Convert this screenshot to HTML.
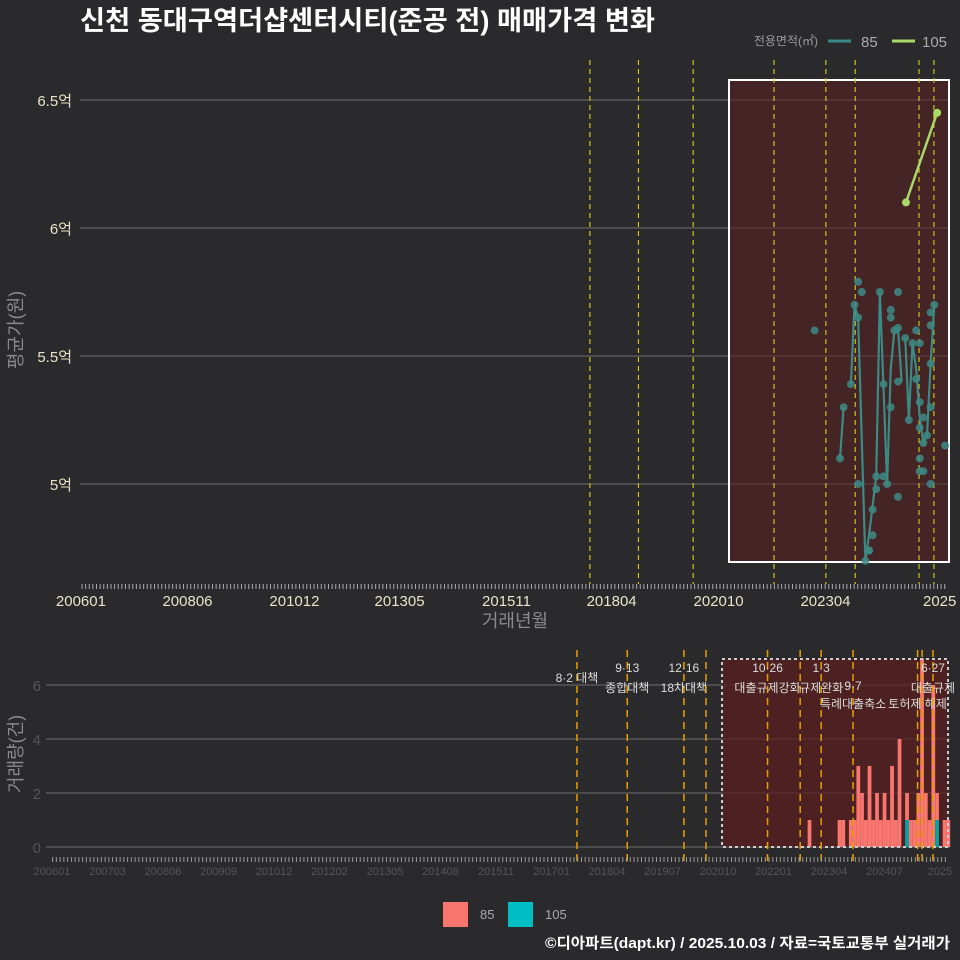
<!DOCTYPE html>
<html><head><meta charset="utf-8"><style>
html,body{margin:0;padding:0;background:#2a2a2c;}
svg{display:block;font-family:"Liberation Sans","Noto Sans CJK KR",sans-serif;}
</style></head><body>
<svg id="c" width="960" height="960" viewBox="0 0 960 960" xmlns="http://www.w3.org/2000/svg">
<rect x="0" y="0" width="960" height="960" fill="#2a2a2c"/>
<text x="80" y="30" fill="#ffffff" font-size="27" font-weight="bold" textLength="575" lengthAdjust="spacingAndGlyphs">신천 동대구역더샵센터시티(준공 전) 매매가격 변화</text>
<g>
<text x="818" y="45" fill="#9a9a9a" font-size="12" text-anchor="end">전용면적(㎡)</text>
<line x1="828" y1="41" x2="851" y2="41" stroke="#3a8a86" stroke-width="3"/>
<text x="861" y="47" fill="#aaaaaa" font-size="15">85</text>
<line x1="892" y1="41" x2="915" y2="41" stroke="#a8d86a" stroke-width="3"/>
<text x="922" y="47" fill="#aaaaaa" font-size="15">105</text>
</g>
<text transform="translate(22,330) rotate(-90)" fill="#8a8a8a" font-size="18" text-anchor="middle">평균가(원)</text>
<text x="515" y="627" fill="#8a8a8a" font-size="18" text-anchor="middle">거래년월</text>
<text transform="translate(22,754) rotate(-90)" fill="#8a8a8a" font-size="18" text-anchor="middle">거래량(건)</text>
<g>
<rect x="443" y="902" width="25" height="25" fill="#f8766d"/>
<text x="480" y="919" fill="#aaaaaa" font-size="13">85</text>
<rect x="508" y="902" width="25" height="25" fill="#00bfc4"/>
<text x="545" y="919" fill="#aaaaaa" font-size="13">105</text>
</g>
<text x="950" y="948" fill="#ffffff" font-size="15" font-weight="bold" text-anchor="end" textLength="405" lengthAdjust="spacingAndGlyphs">©디아파트(dapt.kr) / 2025.10.03 / 자료=국토교통부 실거래가</text>
</svg>
<script>
// ---- data (month index: 0 = 2006-01) ----
const priceTicks = [5, 5.5, 6, 6.5];
const priceTickLabels = ['5억', '5.5억', '6억', '6.5억'];
const topXLabels = ['200601','200806','201012','201305','201511','201804','202010','202304','2025'];
const topXLabelMonths = [-1.4, 28, 57.5, 86.5, 116, 145, 174.5, 204, 235.5];
const topEventMonths = [139, 152.4, 167.5, 189.8, 204.1, 212.2, 229.8, 233.9];
const points85Months = [201,208,209,211,212,213,213,214,213,215,216,216,217,217,218,218,219,220,220,221,222,222,222,223,224,224,224,224,226,227,228,229,229,230,230,230,231,231,232,233,233,233,233,233,234,230,230,231,237];
const points85Values = [5.60,5.10,5.30,5.39,5.70,5.79,5.65,5.75,5.00,4.70,4.74,4.74,4.80,4.90,4.98,5.03,5.75,5.39,5.03,5.00,5.30,5.68,5.65,5.60,5.61,5.75,5.40,4.95,5.57,5.25,5.55,5.60,5.41,5.55,5.32,5.22,5.26,5.16,5.19,5.47,5.30,5.00,5.62,5.67,5.70,5.10,5.05,5.05,5.15];
const line85Months = [208,209,null,211,212,213,215,216,218,219,221,222,223,224,225,null,226,227,228,229,230,231,232,233,234];
const line85Values = [5.10,5.30,null,5.39,5.70,5.65,4.70,4.80,5.03,5.75,5.00,5.45,5.60,5.61,5.40,null,5.57,5.25,5.55,5.45,5.26,5.16,5.19,5.47,5.70];
const line105Months = [226.2, 234.8];
const line105Values = [6.10, 6.45];
const volTicks = [0, 2, 4, 6];
const botXLabels = ['200601','200703','200806','200909','201012','201202','201305','201408','201511','201701','201804','201907','202010','202201','202304','202407','2025'];
const botEventMonths = [139, 152.4, 167.5, 173.4, 189.8, 198.5, 204.1, 212.6, 229.8, 231, 233.9];
const eventTexts = [['8·2 대책',''],['9·13','종합대책'],['12·16','18차대책'],['',''],['10·26','대출규제강화'],['',''],['1·3','규제완화'],['9·7','특례대출축소'],['','토허제 해제'],['',''],['6·27','대출규제']];
const barMonths = [201,209,210,212,213,214,215,216,217,218,219,220,221,222,223,224,225,227,228,229,230,231,232,233,234,235,237,238];
const bar85 = [1,1,1,1,1,3,2,1,3,1,2,1,2,1,3,1,4,1,1,1,2,7,2,1,6,1,1,1];
const bar105 = [0,0,0,0,0,0,0,0,0,0,0,0,0,0,0,0,0,1,0,0,0,0,0,0,0,1,0,0];

// ---- scales ----
const NS='http://www.w3.org/2000/svg';
const svg=document.getElementById('c');
const xTop=m=>86+m*3.625;
const yTop=v=>484-(v-5)*256;
const xBot=m=>55.6+m*3.751;
const yBot=v=>847-v*27;
function mk(tag,attrs,parent){const e=document.createElementNS(NS,tag);for(const k in attrs)e.setAttribute(k,attrs[k]);(parent||svg).appendChild(e);return e;}

// ---- top panel ----
const gTop=mk('g',{});


priceTicks.forEach((v,i)=>{
  const l=mk('line',{x1:80,x2:950,y1:yTop(v),y2:yTop(v),stroke:'#6e6e6e','stroke-width':1},gTop);
  
  
  const t=mk('text',{x:72,y:yTop(v)+6,fill:'#e8e4c8','font-size':15,'text-anchor':'end'},gTop);
  t.textContent=priceTickLabels[i];
  
  
});
const hr=mk('rect',{x:729,y:80,width:220,height:482,fill:'#5a1f1f','fill-opacity':0.55,stroke:'#ffffff','stroke-width':2},gTop);


topEventMonths.forEach(m=>{
  const l=mk('line',{x1:xTop(m),x2:xTop(m),y1:60,y2:584,stroke:'#c8c020','stroke-width':1.2,'stroke-dasharray':'5,4'},gTop);
  
  
});
let tk='';for(let m=0;m<=238;m++){tk+=`M${xTop(m)-4} 584v5`;}
const tp=mk('path',{d:tk,stroke:'#aaaaaa','stroke-width':1},gTop);


topXLabels.forEach((s,i)=>{
  const t=mk('text',{x:xTop(topXLabelMonths[i]),y:606,fill:'#e8e4c8','font-size':15,'text-anchor':'middle'},gTop);
  t.textContent=s;
  
  
});
function linePath(ms,vs){let d='',pen=false;ms.forEach((m,i)=>{if(m===null){pen=false;return;}d+=(pen?'L':'M')+xTop(m)+' '+yTop(vs[i]);pen=true;});return d;}
const l85=mk('path',{d:linePath(line85Months,line85Values),fill:'none',stroke:'#3a8a86','stroke-width':2.2},gTop);


points85Months.forEach((m,i)=>{
  const c=mk('circle',{cx:xTop(m),cy:yTop(points85Values[i]),r:4,fill:'#3d8a85','fill-opacity':0.85},gTop);
  
  
});
const l105=mk('path',{d:linePath(line105Months,line105Values),fill:'none',stroke:'#a8d86a','stroke-width':2.5},gTop);


line105Months.forEach((m,i)=>{
  const c=mk('circle',{cx:xTop(m),cy:yTop(line105Values[i]),r:4,fill:'#a8d86a'},gTop);
  
  
});

// ---- bottom panel ----
const gB=mk('g',{});


volTicks.forEach(v=>{
  const l=mk('line',{x1:46,x2:950,y1:yBot(v),y2:yBot(v),stroke:'#6e6e6e','stroke-width':1},gB);
  
  
  const t=mk('text',{x:41,y:yBot(v)+6,fill:'#555555','font-size':15,'text-anchor':'end'},gB);
  t.textContent=v;
  
  
});
const br=mk('rect',{x:722,y:659,width:226,height:188,fill:'#5a1f1f','fill-opacity':0.75},gB);


barMonths.forEach((m,i)=>{
  const x=xBot(m)-1.9,w=3.75;
  if(bar105[i]>0){
    const r=mk('rect',{x:x,y:yBot(bar105[i]),width:w,height:bar105[i]*27,fill:'#00a5aa'},gB);
    
    
  }
  const top=Math.max(yBot(bar105[i]+bar85[i]),657);
  const r=mk('rect',{x:x,y:top,width:w,height:yBot(bar105[i])-top,fill:'#f8766d'},gB);
  
  
});
const bb=mk('rect',{x:722,y:659,width:226,height:188,fill:'none',stroke:'#cccccc','stroke-width':2,'stroke-dasharray':'3,3'},gB);


botEventMonths.forEach((m,i)=>{
  const x=xBot(m);
  const l=mk('line',{x1:x,x2:x,y1:650,y2:862,stroke:'#e6a000','stroke-width':1.5,'stroke-dasharray':'7,5'},gB);
  
  
  const [a,b]=eventTexts[i];
  if(a){const t=mk('text',{x:x,y:a==='8·2 대책'?682:(a==='9·7'?690:672),fill:'#dddddd','font-size':12,'text-anchor':'middle'},gB);t.textContent=a;
    
    }
  if(b){const t=mk('text',{x:x,y:(b==='특례대출축소'||b==='토허제 해제')?708:692,fill:'#dddddd','font-size':12,'text-anchor':'middle'},gB);t.textContent=b;
    
    }
});
let tb='';for(let m=0;m<=238;m++){tb+=`M${xBot(m)-3} 857v5`;}
const tbp=mk('path',{d:tb,stroke:'#999999','stroke-width':1},gB);


botXLabels.forEach((s,i)=>{
  const t=mk('text',{x:52+i*55.5,y:875,fill:'#555555','font-size':11,'text-anchor':'middle'},gB);
  t.textContent=s;
  
  
});
</script>
</body></html>
